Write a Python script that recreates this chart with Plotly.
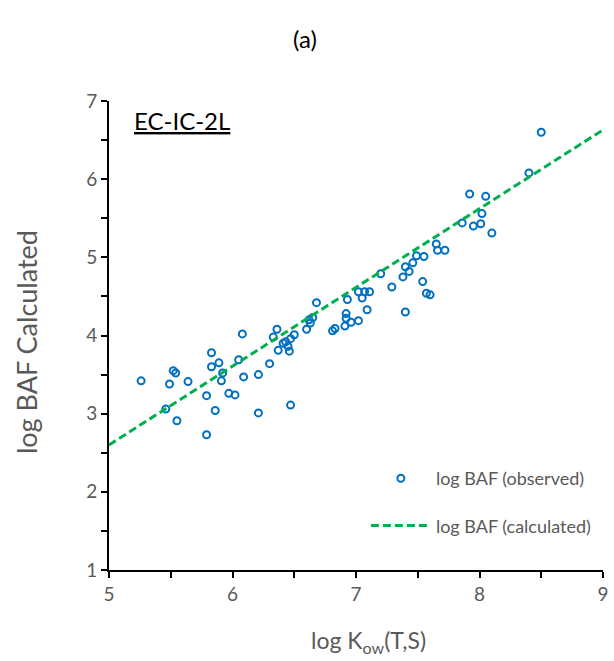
import plotly.graph_objects as go

# observed points: log Kow(T,S) vs log BAF calculated
kow_obs = [5.26, 5.49, 5.52, 5.54, 5.64, 5.46, 5.55, 5.79, 5.86, 5.79,
           5.83, 5.83, 5.89, 5.92, 5.91, 5.97, 6.02, 6.05, 6.09, 6.08,
           6.21, 6.21, 6.30, 6.37, 6.36, 6.33, 6.41, 6.43, 6.46, 6.45,
           6.47, 6.50, 6.60, 6.62, 6.65, 6.63, 6.68, 6.47, 6.81, 6.83,
           6.91, 6.92, 6.93, 6.92, 6.96, 7.02, 7.02, 7.05, 7.07, 7.11,
           7.09, 7.20, 7.29, 7.38, 7.40, 7.43, 7.46, 7.49, 7.55, 7.54,
           7.57, 7.60, 7.40, 7.66, 7.65, 7.72, 8.50, 8.40, 7.92, 8.05,
           8.02, 7.86, 7.95, 8.01, 8.10]
baf_obs = [3.42, 3.38, 3.55, 3.52, 3.41, 3.06, 2.91, 3.23, 3.04, 2.73,
           3.78, 3.60, 3.65, 3.52, 3.42, 3.26, 3.24, 3.69, 3.47, 4.02,
           3.01, 3.50, 3.64, 3.81, 4.08, 3.98, 3.90, 3.92, 3.80, 3.86,
           3.96, 4.01, 4.08, 4.20, 4.23, 4.16, 4.42, 3.11, 4.06, 4.09,
           4.12, 4.28, 4.46, 4.22, 4.17, 4.19, 4.56, 4.48, 4.56, 4.56,
           4.33, 4.79, 4.62, 4.75, 4.88, 4.82, 4.93, 5.02, 5.01, 4.69,
           4.54, 4.52, 4.30, 5.09, 5.17, 5.09, 6.60, 6.08, 5.81, 5.78,
           5.56, 5.44, 5.40, 5.43, 5.31]

# calculated line
kow_line = [5.0, 9.0]
baf_line = [2.60, 6.63]

x_tickvals = [5, 6, 7, 8, 9]
x_ticktext = ["5", "6", "7", "8", "9"]
y_tickvals = [1, 2, 3, 4, 5, 6, 7]
y_ticktext = ["1", "2", "3", "4", "5", "6", "7"]

FONT = "Lato"
GREY = "#595959"

# plot-area geometry (pixels) used to place annotations
L, R, T, B, W, H = 109, 5, 101, 91, 614, 661
PW, PH = W - L - R, H - T - B


def px(x):
    return (x - L) / PW


def py(y):
    return (H - B - y) / PH


fig = go.Figure()
fig.add_trace(go.Scatter(
    x=kow_obs, y=baf_obs, mode="markers", name="log BAF (observed)",
    legendgroup="a",
    marker=dict(symbol="circle-open", size=7, color="#0070C0",
                line=dict(width=2, color="#0070C0")),
))
fig.add_trace(go.Scatter(
    x=kow_line, y=baf_line, mode="lines", name="log BAF (calculated)",
    legendgroup="b",
    line=dict(color="#00B050", width=3, dash="8px,4px"),
))

axis_common = dict(
    showline=True, linecolor="black", linewidth=2,
    ticks="outside", ticklen=6, tickwidth=2, tickcolor="black",
    minor=dict(dtick=0.5, ticks="outside", ticklen=6, tickwidth=2,
               tickcolor="black", showgrid=False),
    showgrid=False, zeroline=False,
    ticklabeloverflow="allow",
    tickfont=dict(family=FONT, size=19, color=GREY),
)

fig.update_layout(
    width=W, height=H,
    margin=dict(l=L, r=R, t=T, b=B),
    paper_bgcolor="white", plot_bgcolor="white",
    font=dict(family=FONT, color=GREY),
    showlegend=True,
    legend=dict(
        x=px(369), y=py(460), xanchor="left", yanchor="top",
        bgcolor="rgba(0,0,0,0)", font=dict(family=FONT, size=18, color=GREY),
        traceorder="grouped", tracegroupgap=21, itemwidth=60,
    ),
    xaxis=dict(range=[5, 9], tickvals=x_tickvals, ticktext=x_ticktext,
               **axis_common),
    yaxis=dict(range=[1, 7], tickvals=y_tickvals, ticktext=y_ticktext,
               **axis_common),
    annotations=[
        dict(text="(a)", x=px(307), y=py(38), xref="paper", yref="paper",
             xanchor="center", yanchor="middle", showarrow=False,
             font=dict(family=FONT, size=24, color="black")),
        dict(text="<u>EC-IC-2L</u>", x=px(132), y=py(121), xref="paper", yref="paper",
             xanchor="left", yanchor="middle", showarrow=False,
             font=dict(family=FONT, size=24, color="black")),
        dict(text="log K<sub>ow</sub>(T,S)", x=px(372), y=py(641),
             xref="paper", yref="paper", xanchor="center", yanchor="middle",
             showarrow=False, font=dict(family=FONT, size=23, color=GREY)),
        dict(text="log BAF Calculated", x=px(25), y=py(342), textangle=-90,
             xref="paper", yref="paper", xanchor="center", yanchor="middle",
             showarrow=False, font=dict(family=FONT, size=27, color=GREY)),
    ],
)

fig.write_html("out.html")
